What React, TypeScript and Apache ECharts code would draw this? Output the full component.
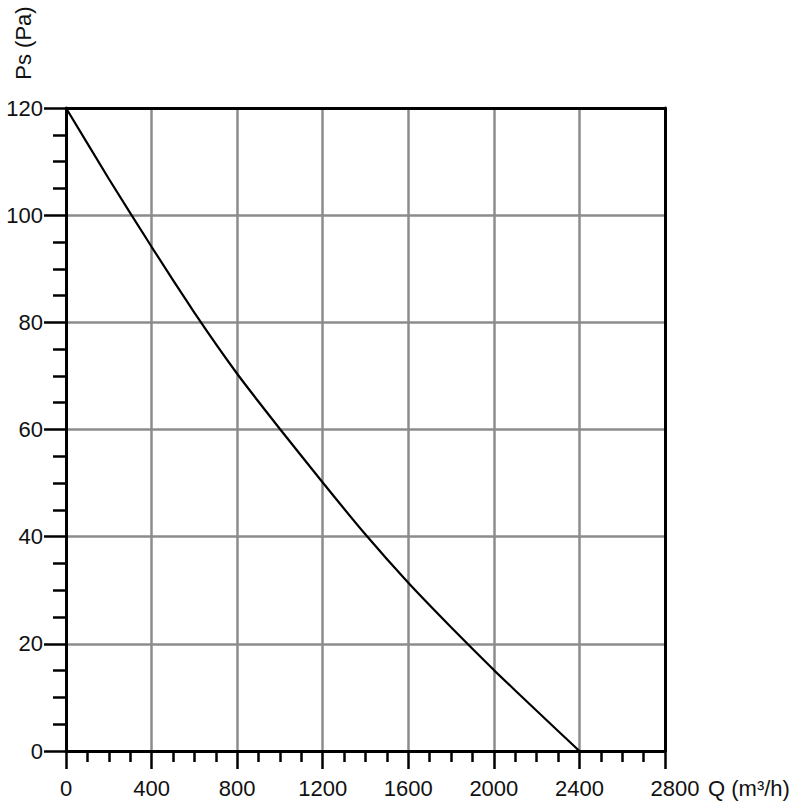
import React, { useEffect, useRef } from "react";
import * as echarts from "echarts";

const flowValues = [0, 200, 400, 600, 800, 1000, 1200, 1400, 1600, 1800, 2000, 2200, 2400];
const pressureValues = [120, 106.8, 94.1, 81.8, 70.4, 60.1, 50.1, 40.4, 31.4, 23.1, 15.1, 7.5, 0];
const xTicks = { min: 0, max: 2800, interval: 400 };
const yTicks = { min: 0, max: 120, interval: 20 };
const xName = "Q (m³/h)";
const yName = "Ps (Pa)";

const FONT = "Liberation Sans, Arial, Helvetica, sans-serif";

export default function App() {
  const ref = useRef<HTMLDivElement>(null);
  useEffect(() => {
    if (!ref.current) return;
    const chart = echarts.init(ref.current, null, { renderer: "svg" });
    const gridLine = { show: true, showMaxLine: false, lineStyle: { color: "#8c8c8c", width: 2.5 } };
    const labelStyle = { color: "#111", fontSize: 22, fontFamily: FONT };
    const data = flowValues.map((q, i) => [q, pressureValues[i]]);
    chart.setOption({
      animation: false,
      backgroundColor: "#fff",
      grid: { left: 66, right: 147, top: 108, bottom: 59, containLabel: false },
      xAxis: [
        {
          type: "value",
          min: xTicks.min,
          max: xTicks.max,
          interval: xTicks.interval,
          axisLine: { show: true, onZero: false, lineStyle: { color: "#000", width: 3 } },
          axisTick: { show: true, length: 18, lineStyle: { color: "#000", width: 2.5 } },
          minorTick: { show: true, splitNumber: 4, length: 11, lineStyle: { color: "#000", width: 2.5 } },
          axisLabel: {
            ...labelStyle,
            margin: 26,
            formatter: (v: number) => (v === xTicks.max ? `{last|${v}}` : String(v)),
            rich: { last: { ...labelStyle, padding: [0, 0, 0, 20] } },
          },
          splitLine: gridLine,
        },
        {
          type: "value",
          position: "top",
          min: xTicks.min,
          max: xTicks.max,
          interval: xTicks.interval,
          axisLine: { show: true, onZero: false, lineStyle: { color: "#000", width: 3 } },
          axisTick: { show: false },
          axisLabel: { show: false },
          splitLine: { show: false },
        },
      ],
      yAxis: [
        {
          type: "value",
          min: yTicks.min,
          max: yTicks.max,
          interval: yTicks.interval,
          axisLine: { show: true, onZero: false, lineStyle: { color: "#000", width: 3 } },
          axisTick: { show: true, length: 22, lineStyle: { color: "#000", width: 2.5 } },
          minorTick: { show: true, splitNumber: 4, length: 13, lineStyle: { color: "#000", width: 2.5 } },
          axisLabel: { ...labelStyle, margin: 23, formatter: (v: number) => String(v) },
          splitLine: gridLine,
        },
        {
          type: "value",
          position: "right",
          min: yTicks.min,
          max: yTicks.max,
          interval: yTicks.interval,
          axisLine: { show: true, onZero: false, lineStyle: { color: "#000", width: 3 } },
          axisTick: { show: false },
          axisLabel: { show: false },
          splitLine: { show: false },
        },
      ],
      graphic: [
        {
          type: "text",
          x: 708,
          y: 788,
          style: { text: xName, font: `22px ${FONT}`, fill: "#111", align: "left", verticalAlign: "middle" },
        },
        {
          type: "text",
          x: 23,
          y: 43,
          rotation: Math.PI / 2,
          style: { text: yName, font: `22px ${FONT}`, fill: "#111", align: "center", verticalAlign: "middle" },
        },
      ],
      series: [
        {
          type: "line",
          data,
          smooth: 0.15,
          showSymbol: false,
          lineStyle: { color: "#000", width: 2.2 },
          z: 5,
        },
      ],
    });
    return () => chart.dispose();
  }, []);
  return (
    <div
      ref={ref}
      style={{ position: "fixed", left: 0, top: 0, width: 812, height: 810, background: "#fff" }}
    />
  );
}
